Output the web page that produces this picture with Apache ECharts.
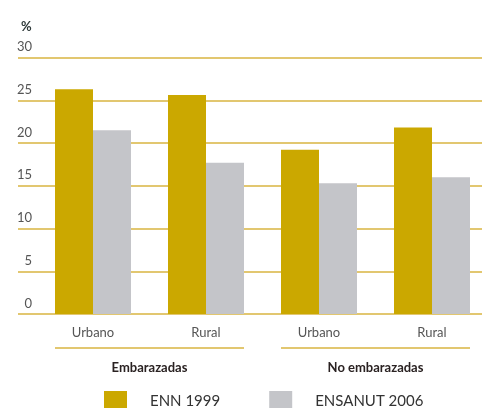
<!DOCTYPE html>
<html>
<head>
<meta charset="utf-8">
<script src="https://cdn.jsdelivr.net/npm/echarts@6/dist/echarts.min.js"></script>
<style>
  html, body { margin: 0; padding: 0; background: #fff; }
  #chart { width: 482px; height: 408px; }
</style>
</head>
<body>
<div id="chart"></div>
<script>
// Categories (area) and their groups (condition)
const categories = ['Urbano', 'Rural', 'Urbano', 'Rural'];
const groups = ['Embarazadas', 'No embarazadas'];
const yTicks = [0, 5, 10, 15, 20, 25, 30];

// Prevalence (%) per survey
const enn1999 = [26.3, 25.6, 19.2, 21.8];
const ensanut2006 = [21.5, 17.7, 15.3, 16.0];

const GOLD = '#CBA800';
const GREY = '#C4C5C9';
const LINE = '#D8B440';
const FONT = 'Lato, "Open Sans", sans-serif';

const chart = echarts.init(document.getElementById('chart'), null, { renderer: 'canvas' });

const option = {
  animation: false,
  textStyle: { fontFamily: FONT },
  grid: [
    { left: 18, right: 0, top: 57.5, bottom: 94, outerBoundsMode: 'none' },
    { left: 36.5, width: 452, top: 57.5, bottom: 94, outerBoundsMode: 'none' }
  ],
  xAxis: [
    { gridIndex: 0, type: 'value', show: false, min: 0, max: 1 },
    {
      gridIndex: 1, type: 'category', data: categories,
      axisLine: { show: false }, axisTick: { show: false },
      axisLabel: { color: '#555', fontSize: 13, margin: 12, fontFamily: FONT }
    },
    {
      gridIndex: 1, type: 'category', data: groups, position: 'bottom',
      axisLine: { show: false }, axisTick: { show: false },
      axisLabel: { color: '#2a2222', fontSize: 13, fontWeight: 'bold', margin: 47, fontFamily: FONT }
    }
  ],
  yAxis: [
    {
      gridIndex: 0, type: 'value', min: 0, max: 30, interval: 5,
      name: '%', nameLocation: 'end', nameGap: 24,
      nameTextStyle: { color: '#2f3a3a', fontSize: 13, fontWeight: 'bold', align: 'left', padding: [0, 0, 0, 3] },
      axisLine: { show: false }, axisTick: { show: false },
      axisLabel: {
        color: '#555', fontSize: 13, margin: -14, align: 'right',
        verticalAlign: 'bottom', padding: [0, 0, 4, 0], fontFamily: FONT,
        formatter: v => yTicks.includes(v) ? String(v) : ''
      },
      splitLine: { lineStyle: { color: LINE, width: 1.5 } }
    },
    { gridIndex: 1, type: 'value', min: 0, max: 30, show: false }
  ],
  legend: {
    left: 104, top: 391, padding: 0,
    itemWidth: 23, itemHeight: 20, itemGap: 49,
    icon: 'rect',
    textStyle: { color: '#333', fontSize: 15, fontFamily: FONT, padding: [5, 0, 0, 18] },
    data: ['ENN 1999', 'ENSANUT 2006']
  },
  series: [
    {
      name: 'ENN 1999', type: 'bar', xAxisIndex: 1, yAxisIndex: 1,
      data: enn1999, barWidth: 38, barGap: '0%',
      itemStyle: { color: GOLD }
    },
    {
      name: 'ENSANUT 2006', type: 'bar', xAxisIndex: 1, yAxisIndex: 1,
      data: ensanut2006, barWidth: 38, barGap: '0%',
      itemStyle: { color: GREY }
    }
  ]
};

chart.setOption(option);

// Underline each group, spanning the bars of its two categories
const barW = 38;
const lineY = 348;
const spans = [[0, 1], [2, 3]].map(([a, b]) => {
  const x0 = chart.convertToPixel({ xAxisIndex: 1 }, a) - barW;
  const x1 = chart.convertToPixel({ xAxisIndex: 1 }, b) + barW;
  return { type: 'line', shape: { x1: x0, y1: lineY, x2: x1, y2: lineY },
           style: { stroke: LINE, lineWidth: 1.5 }, silent: true };
});
chart.setOption({ graphic: spans });
</script>
</body>
</html>
